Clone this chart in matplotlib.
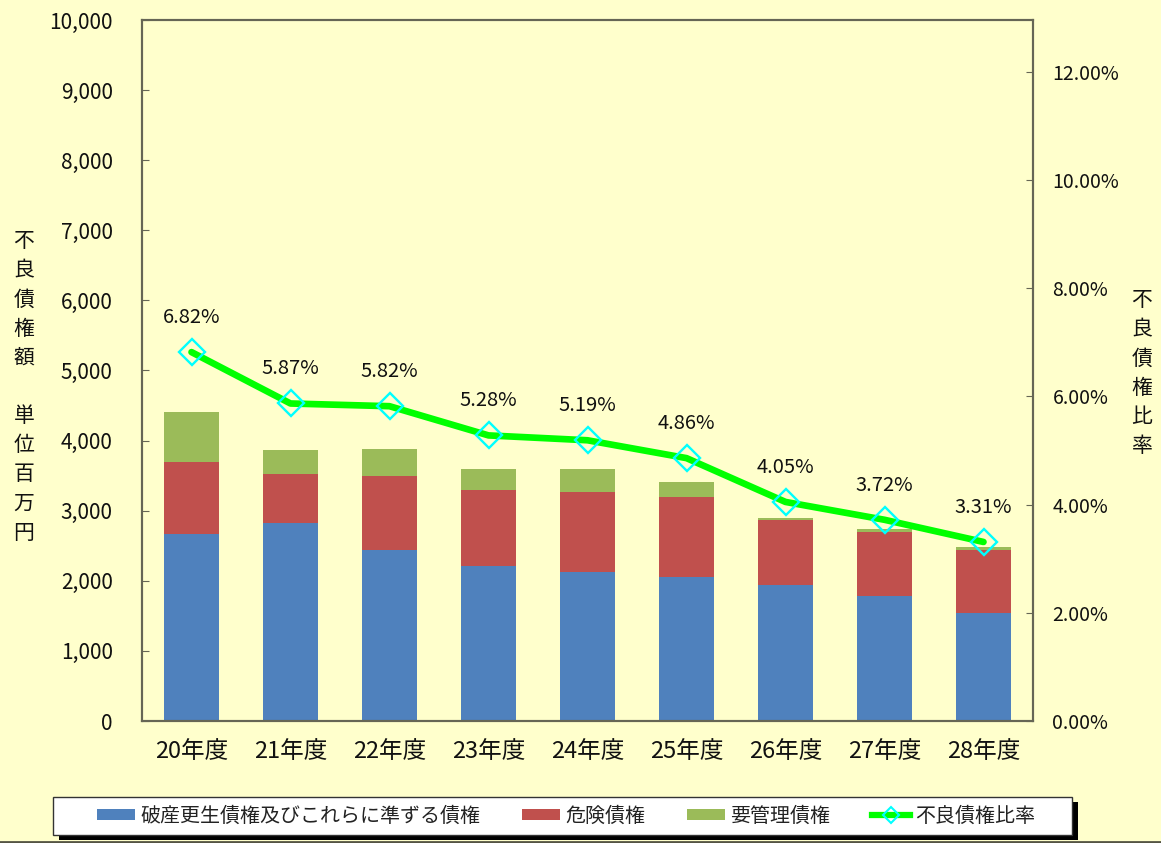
import matplotlib
matplotlib.use("Agg")
import matplotlib.pyplot as plt
import numpy as np
from matplotlib.ticker import FuncFormatter, MultipleLocator
from matplotlib.patches import Rectangle
from matplotlib.lines import Line2D

plt.rcParams['font.family'] = ['Noto Sans CJK JP', 'DejaVu Sans']

categories = ["20年度", "21年度", "22年度", "23年度", "24年度", "25年度", "26年度", "27年度", "28年度"]
hasan = [2663, 2820, 2439, 2211, 2126, 2050, 1936, 1788, 1536]
kiken = [1032, 699, 1060, 1084, 1136, 1141, 931, 904, 903]
youkanri = [717, 347, 381, 304, 337, 223, 29, 43, 48]
ratio = [6.82, 5.87, 5.82, 5.28, 5.19, 4.86, 4.05, 3.72, 3.31]

series_names = ["破産更生債権及びこれらに準ずる債権", "危険債権", "要管理債権", "不良債権比率"]

BG = "#FFFFCC"
SPINE = "#666655"
TXT = "#111111"

W, H = 1161, 843
fig = plt.figure(figsize=(W / 100, H / 100), dpi=100, facecolor=BG)
ax = fig.add_axes([142 / W, (H - 721) / H, (1033 - 142) / W, (721 - 20) / H])
ax.set_facecolor(BG)

x = np.arange(len(categories))
bw = 0.555
b1 = ax.bar(x, hasan, bw, color="#4F81BD", label=series_names[0], zorder=2)
bottom2 = np.array(hasan)
b2 = ax.bar(x, kiken, bw, bottom=bottom2, color="#C0504D", label=series_names[1], zorder=2)
bottom3 = bottom2 + np.array(kiken)
b3 = ax.bar(x, youkanri, bw, bottom=bottom3, color="#9BBB59", label=series_names[2], zorder=2)

ax.set_xlim(-0.5, len(categories) - 0.5)
ax.set_ylim(0, 10000)
ax.yaxis.set_major_locator(MultipleLocator(1000))
ax.yaxis.set_major_formatter(FuncFormatter(lambda v, p: f"{int(v):,}"))
ax.set_xticks(x)
ax.set_xticklabels(categories, fontsize=17)
ax.tick_params(axis='x', length=0, pad=14, colors=TXT)
ax.tick_params(axis='y', direction='in', length=5, color=SPINE, labelsize=15, pad=21, labelcolor=TXT)
for s in ax.spines.values():
    s.set_color(SPINE)
    s.set_linewidth(1.5)

ax2 = ax.twinx()
ax2.set_ylim(0, 12.96)
ax2.yaxis.set_major_locator(MultipleLocator(2))
ax2.yaxis.set_major_formatter(FuncFormatter(lambda v, p: f"{v:.2f}%"))
ax2.tick_params(axis='y', direction='in', length=5, color=SPINE, labelsize=14, pad=14, labelcolor=TXT)
for s in ax2.spines.values():
    s.set_color(SPINE)
    s.set_linewidth(1.5)

line, = ax2.plot(x, ratio, color="#00FF00", lw=4.8, solid_capstyle='round',
                 marker='D', markersize=13, markerfacecolor='none',
                 markeredgecolor="#00FFFF", markeredgewidth=1.7, label=series_names[3], zorder=3)
for xi, r in zip(x, ratio):
    ax2.annotate(f"{r:.2f}%", (xi, r), xytext=(0, 25), textcoords='offset points',
                 ha='center', va='center', fontsize=14.5, color=TXT)

fig.text(24 / W, 1 - 387 / H, "不\n良\n債\n権\n額\n\n単\n位\n百\n万\n円", ha='center', va='center',
         fontsize=15, linespacing=1.42, color=TXT)
fig.text(1142 / W, 1 - 373 / H, "不\n良\n債\n権\n比\n率", ha='center', va='center',
         fontsize=15, linespacing=1.42, color=TXT)

# legend box with shadow
fig.add_artist(Rectangle((59 / W, (H - 840) / H), (1072 - 53) / W, 38 / H, transform=fig.transFigure,
                         facecolor="black", edgecolor="none", zorder=5))
fig.add_artist(Rectangle((53 / W, (H - 835) / H), (1072 - 53) / W, 38 / H, transform=fig.transFigure,
                         facecolor="white", edgecolor="#333333", lw=1.0, zorder=6))

line_handle = Line2D([], [], color="#00FF00", lw=4.5, marker='D', markersize=8,
                     markerfacecolor='none', markeredgecolor="#00FFFF", markeredgewidth=1.5)
handles = [b1, b2, b3, line_handle]
leg = fig.legend(handles, series_names, loc='center', ncol=4,
                 bbox_to_anchor=(566 / W, 1 - 816 / H),
                 fontsize=14.4, frameon=False, handlelength=1.9,
                 handleheight=0.45, handletextpad=0.25, columnspacing=2.1, borderaxespad=0)
leg.set_zorder(7)
for t in leg.get_texts():
    t.set_color("#222222")

fig.add_artist(Line2D([0, 1], [1 / H, 1 / H], color="#555544", lw=2, transform=fig.transFigure))

fig.savefig("out.png", dpi=100, facecolor=BG)
